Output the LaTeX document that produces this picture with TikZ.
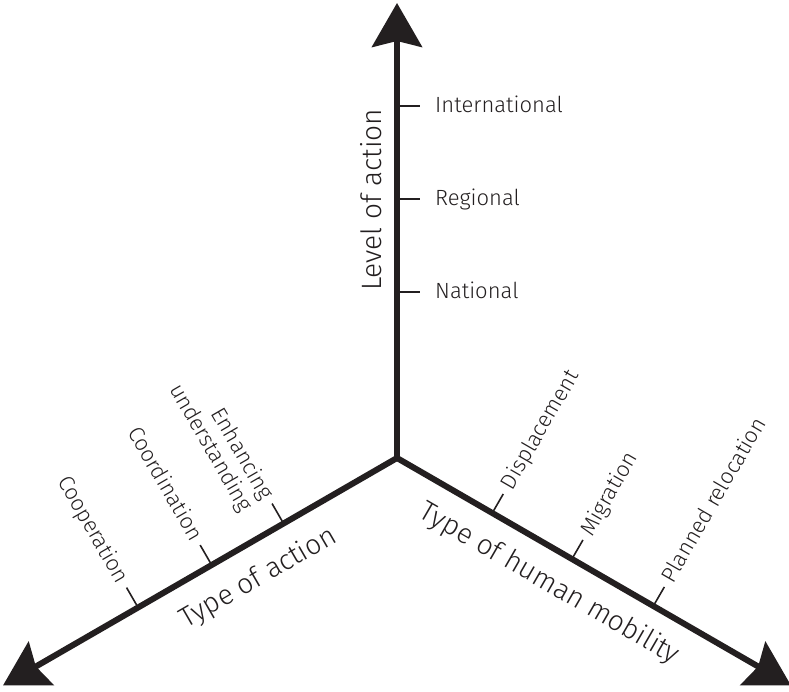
\documentclass[tikz,border=0pt]{standalone}
\usepackage{fontspec}
\setmainfont{Fira Sans Light}
\usetikzlibrary{arrows.meta,calc}
\definecolor{ink}{HTML}{231F20}
\tikzset{bigtip/.tip={Stealth[length=44pt,width=50pt,inset=6pt]}}
\begin{document}
\begin{tikzpicture}[x=1pt,y=1pt,
  axisline/.style={draw=ink, line width=6pt},
  tickline/.style={draw=ink, line width=1.6pt},
  lab/.style={text=ink, font=\fontsize{22}{24}\selectfont, inner sep=0pt},
  axtitle/.style={text=ink, font=\fontsize{28}{32}\selectfont, inner sep=0pt}]
\useasboundingbox (0,0) rectangle (789,-692);
\coordinate (O) at (397,-458);
\coordinate (Up) at ($(O)+(90:455)$);
\coordinate (Left) at ($(O)+(210:455)$);
\coordinate (Right) at ($(O)+(330:455)$);
% axes
\draw[axisline, bigtip-bigtip, line join=miter] (Left) -- (O) -- (Right);
\draw[axisline, -bigtip] (O) -- (Up);
% vertical ticks
\foreach \d/\n/\t in {166/nat/National,259/reg/Regional,352/int/International} {
  \coordinate (v\n) at ($(O)+(90:\d)$);
  \coordinate (v\n e) at ($(v\n)+(0:23)$);
  \draw[tickline] (v\n) -- (v\n e);
  \node[lab, anchor=mid west] (l\n) at ($(v\n e)+(0:15)+(270:4)$) {\t};
}
% right ticks
\foreach \d/\n/\t in {110/dis/Displacement,202/mig/Migration,296/pla/Planned relocation} {
  \coordinate (r\n) at ($(O)+(330:\d)$);
  \coordinate (r\n e) at ($(r\n)+(60:22)$);
  \draw[tickline] (r\n) -- (r\n e);
  \node[lab, rotate=60, anchor=mid west] (l\n) at ($(r\n e)+(60:7)+(330:4)$) {\t};
}
% left ticks
\foreach \d/\n/\t in {299/coop/Cooperation,214/coor/Coordination} {
  \coordinate (q\n) at ($(O)+(210:\d)$);
  \coordinate (q\n e) at ($(q\n)+(120:23)$);
  \draw[tickline] (q\n) -- (q\n e);
  \node[lab, rotate=-60, anchor=mid east] (l\n) at ($(q\n e)+(120:7)+(210:4)$) {\t};
}
\coordinate (qenh) at ($(O)+(210:131)$);
\coordinate (qenh e) at ($(qenh)+(120:23)$);
\draw[tickline] (qenh) -- (qenh e);
\node[lab, rotate=-60, anchor=north east, align=right] (lenh)
  at ($(qenh e)+(120:7)+(30:9)$) {Enhancing\\understanding};
% axis titles
\node[axtitle, rotate=90] (tlev) at ($(O)+(90:258)+(180:26)$) {Level of action};
\node[axtitle, rotate=30] (ttyp) at ($(O)+(210:180)+(300:35)$) {Type of action};
\node[axtitle, rotate=-30] (tmob) at ($(O)+(330:195)+(240:33)$) {Type of human mobility};
\end{tikzpicture}
\end{document}
